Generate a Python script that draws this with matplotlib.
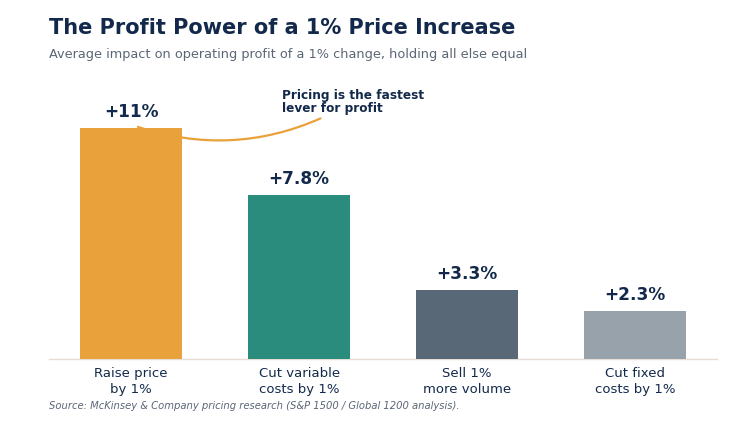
import matplotlib
matplotlib.use("Agg")
import matplotlib.pyplot as plt

categories = ["Raise price\nby 1%", "Cut variable\ncosts by 1%", "Sell 1%\nmore volume", "Cut fixed\ncosts by 1%"]
impact = [11.0, 7.8, 3.3, 2.3]
value_labels = ["+11%", "+7.8%", "+3.3%", "+2.3%"]
bar_colors = ["#E9A23B", "#2A8C7D", "#596877", "#97A2AB"]

navy = "#13294B"
grey = "#5B6675"

plt.rcParams["font.family"] = ["DejaVu Sans"]

fig = plt.figure(figsize=(7.5, 4.28), dpi=100)
ax = fig.add_axes([0.0653, 0.1612, 0.8907, 0.638])

x = range(len(categories))
ax.bar(x, impact, width=0.61, color=bar_colors, zorder=3)

for i, (v, lab) in enumerate(zip(impact, value_labels)):
    ax.annotate(lab, (i, v), xytext=(0, 5), textcoords="offset points",
                ha="center", va="bottom", fontsize=12.2, fontweight="bold", color=navy)

ax.set_xlim(-0.49, 3.49)
ax.set_ylim(0, 13)
ax.set_xticks(list(x))
ax.set_xticklabels(categories, fontsize=9.5, color=navy, linespacing=1.3)
ax.tick_params(axis="x", length=0, pad=6)
ax.set_yticks([])
for s in ["left", "right", "top"]:
    ax.spines[s].set_visible(False)
ax.spines["bottom"].set_color("#E6DDD6")
ax.spines["bottom"].set_linewidth(1)

# callout, curve sits behind the first bar
ax.annotate("Pricing is the fastest\nlever for profit", xy=(0.04, 11.05), xytext=(0.9, 12.85),
            fontsize=8.7, fontweight="bold", color=navy, ha="left", va="top",
            linespacing=1.0,
            arrowprops=dict(arrowstyle="-", color="#E9A23B", lw=1.6,
                            connectionstyle="arc3,rad=-0.2",
                            relpos=(0.32, 0.0), shrinkA=1, shrinkB=0),
            zorder=2)

fig.text(0.0653, 0.935, "The Profit Power of a 1% Price Increase", fontsize=15.0,
         fontweight="bold", color=navy, ha="left", va="center")
fig.text(0.0653, 0.873, "Average impact on operating profit of a 1% change, holding all else equal",
         fontsize=9.3, color=grey, ha="left", va="center")
fig.text(0.0653, 0.052, "Source: McKinsey & Company pricing research (S&P 1500 / Global 1200 analysis).",
         fontsize=7.2, style="italic", color=grey, ha="left", va="center")

fig.savefig("out.png", dpi=100)
